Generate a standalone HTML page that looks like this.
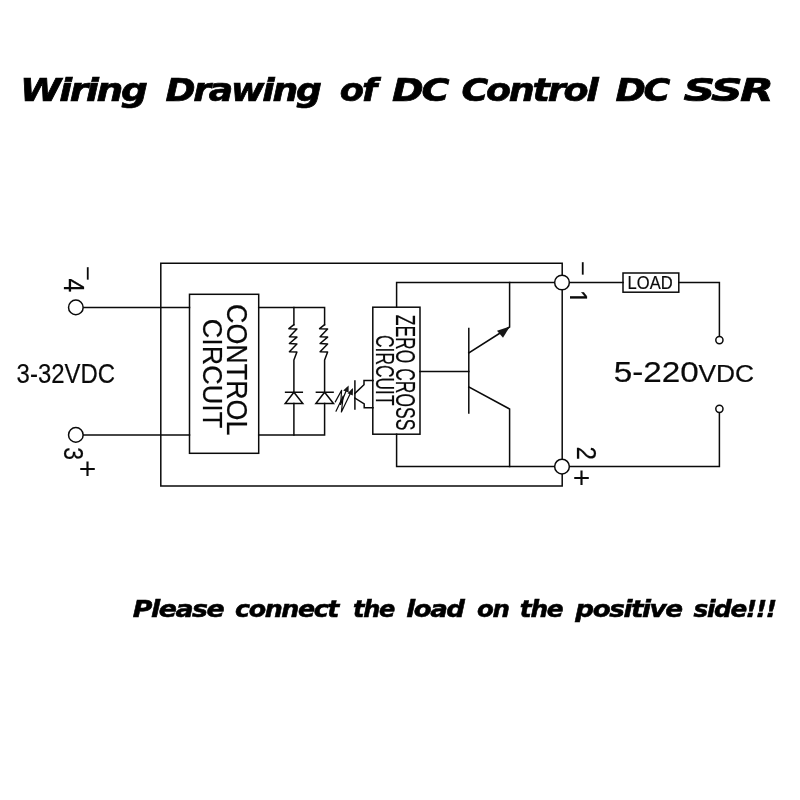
<!DOCTYPE html>
<html lang="en">
<head>
<meta charset="utf-8">
<title>Wiring Drawing of DC Control DC SSR</title>
<style>
html,body{margin:0;padding:0;background:#fff;}
body{width:800px;height:800px;overflow:hidden;position:relative;}
svg{position:absolute;left:0;top:0;display:block;will-change:transform;}
.w{fill:none;stroke:#0a0a0a;stroke-width:1.5;stroke-linecap:square;stroke-linejoin:miter;}
.r{stroke-linejoin:round;stroke-linecap:round;}
.a{stroke-width:1.2;}
.c{fill:#fff;stroke:#0a0a0a;stroke-width:1.5;}
.t{font-family:"Liberation Sans","DejaVu Sans",sans-serif;fill:#0a0a0a;stroke:#0a0a0a;stroke-width:0.2;}
.h{font-family:"DejaVu Sans","Liberation Sans",sans-serif;font-weight:bold;font-style:italic;fill:#000;stroke:#000;stroke-linejoin:miter;}
</style>
</head>
<body>
<svg width="800" height="800" viewBox="0 0 800 800">

<!-- Title -->
<g class="h" font-size="32.5" letter-spacing="-2" stroke-width="0.7">
<text x="20.02" y="101.3" textLength="125.44" lengthAdjust="spacingAndGlyphs">Wiring</text>
<text x="165.40" y="101.3" textLength="154.24" lengthAdjust="spacingAndGlyphs">Drawing</text>
<text x="339.81" y="101.3" textLength="35.28" lengthAdjust="spacingAndGlyphs">of</text>
<text x="392.10" y="101.3" textLength="55.00" lengthAdjust="spacingAndGlyphs">DC</text>
<text x="461.53" y="101.3" textLength="135.10" lengthAdjust="spacingAndGlyphs">Control</text>
<text x="615.41" y="101.3" textLength="52.75" lengthAdjust="spacingAndGlyphs">DC</text>
<text x="683.55" y="101.3" textLength="87.58" lengthAdjust="spacingAndGlyphs">SSR</text>
</g>

<!-- Footer note -->
<g class="h" font-size="23.5" letter-spacing="-1.3" stroke-width="0.55">
<text x="132.85" y="616.9" textLength="90.36" lengthAdjust="spacingAndGlyphs">Please</text>
<text x="235.07" y="616.9" textLength="102.92" lengthAdjust="spacingAndGlyphs">connect</text>
<text x="353.02" y="616.9" textLength="40.98" lengthAdjust="spacingAndGlyphs">the</text>
<text x="406.21" y="616.9" textLength="57.31" lengthAdjust="spacingAndGlyphs">load</text>
<text x="477.07" y="616.9" textLength="31.58" lengthAdjust="spacingAndGlyphs">on</text>
<text x="519.87" y="616.9" textLength="42.37" lengthAdjust="spacingAndGlyphs">the</text>
<text x="575.34" y="616.9" textLength="106.29" lengthAdjust="spacingAndGlyphs">positive</text>
<text x="693.64" y="616.9" textLength="81.93" lengthAdjust="spacingAndGlyphs">side!!!</text>
</g>

<!-- Outer housing -->
<path class="w" d="M562.2,274.8 V263.2 H160.8 V486 H562.2 V474.4"/>
<path class="w" d="M562.2,290.2 V458.8"/>

<!-- Input terminals -->
<path class="w" d="M83.5,307.4 H189.5"/>
<path class="w" d="M83.5,434.9 H189.5"/>
<circle class="c" cx="75.85" cy="307.4" r="7.3"/>
<circle class="c" cx="75.85" cy="434.9" r="7.3"/>

<!-- Control circuit box -->
<rect class="w" x="189.5" y="294.3" width="69.2" height="159"/>
<path class="w" d="M258.7,307.5 H324.6 V324.7"/>
<path class="w" d="M258.7,435 H324.6 V403.6"/>
<path class="w" d="M293.9,307.5 V324.7"/>
<path class="w" d="M293.9,435 V403.6"/>

<!-- Resistors -->
<path class="w r" d="M293.9,324.7 L288.9,328.7 L296.9,328.9 L289.4,336.8 L296.9,337.1 L289.4,343.5 L296.9,343.9 L289.4,351.8 L296.9,352.1 L293.9,360 V392.3"/>
<path class="w r" d="M324.6,324.7 L319.6,328.7 L327.6,328.9 L320.1,336.8 L327.6,337.1 L320.1,343.5 L327.6,343.9 L320.1,351.8 L327.6,352.1 L324.6,360 V392.3"/>

<!-- Diodes -->
<path class="w" d="M285.6,392.3 H302.3 M293.9,392.3 L285.2,403.6 H302.8 Z"/>
<path class="w" d="M316.4,392.3 H333.1 M324.6,392.3 L315.9,403.6 H333.5 Z"/>

<!-- Light arrows -->
<path class="w r a" d="M335.3,401.9 L341.6,390.3 L340.6,404.5 L347.5,387.5"/>
<path class="w r a" d="M336,411.2 L343.2,396 L341.4,412 L352,390"/>
<path d="M348.6,385.6 L343.2,390.6 L348.6,392.6 Z" fill="#161616"/>
<path d="M353,388 L347.5,393.2 L352.8,395.4 Z" fill="#161616"/>

<!-- Phototransistor -->
<path class="w" d="M354.9,380.9 V409"/>
<path class="w" d="M354.9,393.4 L364,384.7 V380.6 H373"/>
<path class="w" d="M354.9,398.1 L364.2,403.8 V407.8 H373"/>

<!-- Zero cross circuit box -->
<rect class="w" x="372.8" y="307.2" width="47.2" height="127"/>
<path class="w" d="M396.6,307.2 V282.5 H554.3"/>
<path class="w" d="M396.6,434.2 V466.5 H554.3"/>

<!-- Output transistor -->
<path class="w" d="M420,371.5 H468.8"/>
<path class="w" d="M468.8,328.4 V413"/>
<path class="w" d="M468.8,353 L509.6,327 V282.5"/>
<path class="w" d="M468.8,387 L509.6,409 V466.5"/>
<path d="M509.9,326.6 L497,330.8 L503,337.8 Z" fill="#161616"/>

<!-- Output terminals -->
<circle class="c" cx="562" cy="282.5" r="7.35"/>
<circle class="c" cx="562" cy="466.6" r="7.35"/>

<!-- Load loop -->
<path class="w" d="M569.7,282.5 H623"/>
<rect class="w" x="623" y="273" width="55.8" height="19.2"/>
<path class="w" d="M678.8,282.5 H719.4 V336.5"/>
<path class="w" d="M569.7,466.5 H719.4 V412.4"/>
<circle class="c" cx="719.4" cy="340.1" r="3.6"/>
<circle class="c" cx="719.4" cy="408.8" r="3.6"/>

<!-- Labels -->
<text class="t" x="627.6" y="289.3" font-size="18.9" textLength="45" lengthAdjust="spacingAndGlyphs">LOAD</text>
<text class="t" x="16.6" y="382.9" font-size="27.3" textLength="98.5" lengthAdjust="spacingAndGlyphs">3-32VDC</text>
<text class="t" x="613.8" y="382.2" font-size="29.4" textLength="85" lengthAdjust="spacingAndGlyphs">5-220</text>
<text class="t" x="698.4" y="382.2" font-size="24.1" textLength="55.6" lengthAdjust="spacingAndGlyphs">VDC</text>

<!-- Rotated box labels -->
<text class="t" transform="translate(227,304) rotate(90)" font-size="29" textLength="131.5" lengthAdjust="spacingAndGlyphs">CONTROL</text>
<text class="t" transform="translate(202.5,318.8) rotate(90)" font-size="28.3" textLength="109.5" lengthAdjust="spacingAndGlyphs">CIRCUIT</text>
<text class="t" transform="translate(396.2,314.8) rotate(90)" font-size="28.5" textLength="115.5" lengthAdjust="spacingAndGlyphs">ZERO CROSS</text>
<text class="t" transform="translate(375.9,335) rotate(90)" font-size="26.2" textLength="70.5" lengthAdjust="spacingAndGlyphs">CIRCUIT</text>

<!-- Terminal numbers -->
<clipPath id="nofoot"><rect x="-2" y="-30" width="24" height="27.67"/></clipPath>
<text class="t" transform="translate(64,278.6) rotate(90) scale(0.92,1.07)" font-size="26.7">4</text>
<text class="t" transform="translate(64,447.2) rotate(90) scale(0.85,1.03)" font-size="27">3</text>
<text class="t" transform="translate(567.3,289.9) rotate(90) scale(1,1.16)" font-size="24.7" clip-path="url(#nofoot)">1</text>
<text class="t" transform="translate(576.9,446.4) rotate(90) scale(0.88,1)" font-size="27.6">2</text>

<!-- Polarity marks -->
<g class="t" style="stroke-width:0">
<text transform="translate(79.45,265.84) rotate(90)" font-size="25.7">−</text>
<text transform="translate(573.75,260.84) rotate(90)" font-size="25.7">−</text>
<text x="78.65" y="479.4" font-size="30">+</text>
<text x="572.75" y="488.1" font-size="30">+</text>
</g>
</svg>
</body>
</html>
